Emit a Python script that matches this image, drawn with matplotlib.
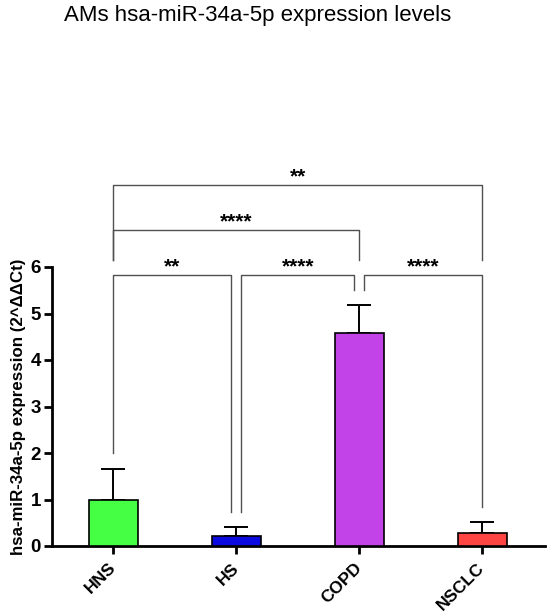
import matplotlib
matplotlib.use("Agg")
import matplotlib.pyplot as plt

plt.rcParams["font.family"] = ["Liberation Sans", "DejaVu Sans"]

# ── Data ──────────────────────────────────────────────────────────────
groups = ["HNS", "HS", "COPD", "NSCLC"]
means = [1.0, 0.21, 4.58, 0.29]
errors = [0.66, 0.20, 0.60, 0.23]
colors = ["#44ff44", "#0a0ae0", "#c244e8", "#ff4444"]

# significance brackets: (left idx, right idx, height, left leg end, right leg end, label)
bracket_left = [0, 1, 2, 0, 0]
bracket_right = [1, 2, 3, 2, 3]
bracket_y = [5.83, 5.83, 5.83, 6.8, 7.76]
leg_left_end = [2.0, 0.73, 5.5, 6.15, 6.15]
leg_right_end = [0.73, 5.5, 0.84, 6.15, 6.15]
bracket_text = ["**", "****", "****", "****", "**"]
# small horizontal offsets so neighbouring brackets don't touch at a shared bar
off_left = [0.0, 0.04, 0.04, 0.0, 0.0]
off_right = [-0.04, -0.04, 0.0, 0.0, 0.0]

W, H = 550, 615
fig = plt.figure(figsize=(W / 100, H / 100), dpi=100, facecolor="white")
ax = fig.add_axes([52 / W, 69 / H, (545 - 52) / W, (546 - 267) / H])

x = list(range(len(groups)))
ax.bar(x, means, width=0.4, color=colors, edgecolor="black", linewidth=1.2, zorder=3)
ax.errorbar(x, means, yerr=[[0] * len(errors), errors], fmt="none",
            ecolor="black", elinewidth=1.4, capsize=8.5, capthick=1.4, zorder=2)

for i in range(len(bracket_y)):
    xl = bracket_left[i] + off_left[i]
    xr = bracket_right[i] + off_right[i]
    y = bracket_y[i]
    ax.plot([xl, xl, xr, xr], [leg_left_end[i], y, y, leg_right_end[i]],
            color="#505050", lw=1.0, clip_on=False, zorder=1)
    ax.text((xl + xr) / 2, y + 0.06, bracket_text[i], ha="center", va="baseline",
            fontsize=15, fontweight="bold", color="black", clip_on=False)

ax.set_xlim(-0.5, 3.51)
ax.set_ylim(0, 6)
ax.set_yticks(range(0, 7))
ax.set_xticks(x)
ax.set_xticklabels(groups, rotation=45, ha="right", va="center",
                   rotation_mode="anchor", fontsize=12.5, fontweight="bold")
for lab in ax.get_yticklabels():
    lab.set_fontweight("bold")
    lab.set_fontsize(13.5)

for side in ["top", "right"]:
    ax.spines[side].set_visible(False)
for side in ["left", "bottom"]:
    ax.spines[side].set_linewidth(2.0)
ax.tick_params(axis="both", width=2.0, length=6, direction="out")
ax.tick_params(axis="x", pad=8)
ax.tick_params(axis="y", pad=2)

ax.set_ylabel("hsa-miR-34a-5p expression (2^\u0394\u0394Ct)", fontsize=12.2,
              fontweight="bold", labelpad=3)

fig.text(258 / W, 1 - 15 / H, "AMs hsa-miR-34a-5p expression levels",
         ha="center", va="center", fontsize=16)

fig.savefig("out.png", dpi=100, facecolor="white")
